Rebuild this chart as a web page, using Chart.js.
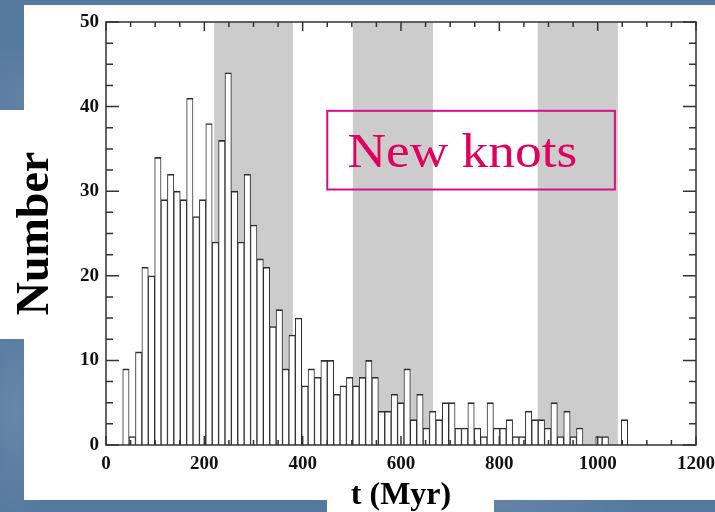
<!DOCTYPE html>
<html>
<head>
<meta charset="utf-8">
<script src="https://cdn.jsdelivr.net/npm/chart.js@4.4.1/dist/chart.umd.min.js"></script>
<style>
  html, body { margin: 0; padding: 0; }
  body {
    width: 715px; height: 512px; overflow: hidden; position: relative;
    background:
      radial-gradient(ellipse 180px 90px at 10% 20%, rgba(255,255,255,0.10), rgba(255,255,255,0) 70%),
      radial-gradient(ellipse 200px 80px at 70% 98%, rgba(255,255,255,0.08), rgba(255,255,255,0) 70%),
      radial-gradient(ellipse 60px 160px at 2% 80%, rgba(255,255,255,0.10), rgba(255,255,255,0) 70%),
      #56799f;
  }
  .sheet { position: absolute; background: #fff; }
  #chart { position: absolute; left: 0; top: 0; }
</style>
</head>
<body>
<div class="sheet" style="left:24px;top:5px;width:691px;height:495px"></div>
<div class="sheet" style="left:0;top:110px;width:24px;height:229px"></div>
<div class="sheet" style="left:327px;top:500px;width:167px;height:12px"></div>
<canvas id="chart" width="715" height="512"></canvas>
<script>
// knot ages, binned in 13 Myr steps from 34 Myr
var binStart = 34;
var binWidth = 13;
var counts = [9, 1, 11, 21, 20, 34, 29, 32, 30, 29,
              41, 27, 29, 38, 24, 36, 44, 30, 24, 32,
              26, 22, 21, 14, 16, 9, 13, 15, 7, 9,
              8, 10, 10, 6, 7, 8, 7, 8, 10, 8,
              4, 4, 6, 5, 9, 3, 6, 2, 4, 3,
              5, 5, 2, 2, 5, 2, 1, 5, 2, 2,
              3, 1, 1, 4, 3, 3, 2, 5, 1, 4,
              1, 2, 0, 0, 1, 1, 0, 0, 3];

// grey age intervals (Myr)
var bandStart = [220, 502, 878];
var bandEnd = [380, 665, 1041];

var xTicks = [0, 200, 400, 600, 800, 1000, 1200];
var yTicks = [0, 10, 20, 30, 40, 50];

var bins = counts.map(function (c, i) {
  return { x: binStart + binWidth * (i + 0.5), y: c };
});

var serif = 'Liberation Serif';

var frame = {
  id: 'frame',
  beforeDatasetsDraw: function (chart) {
    var a = chart.chartArea, sx = chart.scales.x, ctx = chart.ctx;
    ctx.save();
    ctx.fillStyle = '#cccccc';
    for (var i = 0; i < bandStart.length; i++) {
      var x0 = sx.getPixelForValue(bandStart[i]);
      var x1 = sx.getPixelForValue(bandEnd[i]);
      ctx.fillRect(x0, a.top, x1 - x0, a.bottom - a.top);
    }
    ctx.restore();
  },
  afterDatasetsDraw: function (chart) {
    // closed box with inward ticks on all four sides
    var a = chart.chartArea, sx = chart.scales.x, sy = chart.scales.y, ctx = chart.ctx;
    ctx.save();
    ctx.strokeStyle = '#333';
    ctx.lineWidth = 1.5;
    ctx.strokeRect(a.left, a.top, a.right - a.left, a.bottom - a.top);
    ctx.beginPath();
    for (var v = 0; v <= 1200; v += 50) {
      var px = sx.getPixelForValue(v);
      var len = v % 200 === 0 ? 9 : 5;
      ctx.moveTo(px, a.bottom); ctx.lineTo(px, a.bottom - len);
      ctx.moveTo(px, a.top); ctx.lineTo(px, a.top + len);
    }
    for (var w = 0; w <= 50; w += 2.5) {
      var py = sy.getPixelForValue(w);
      var l2 = w % 10 === 0 ? 13 : 7;
      ctx.moveTo(a.left, py); ctx.lineTo(a.left + l2, py);
      ctx.moveTo(a.right, py); ctx.lineTo(a.right - l2, py);
    }
    ctx.stroke();
    ctx.restore();
  },
  afterDraw: function (chart) {
    var sx = chart.scales.x, sy = chart.scales.y, ctx = chart.ctx;
    var x0 = sx.getPixelForValue(450), x1 = sx.getPixelForValue(1035);
    var y0 = sy.getPixelForValue(39.5), y1 = sy.getPixelForValue(30.2);
    ctx.save();
    ctx.strokeStyle = '#d3118b';
    ctx.lineWidth = 2;
    ctx.strokeRect(x0, y0, x1 - x0, y1 - y0);
    ctx.fillStyle = '#e0005e';
    ctx.font = '49px "' + serif + '"';
    ctx.textBaseline = 'alphabetic';
    ctx.translate(sx.getPixelForValue(491), sy.getPixelForValue(32.9));
    ctx.scale(1.09, 1);
    ctx.fillText('New knots', 0, 0);
    ctx.restore();
  }
};

var tickFont = { family: serif, weight: 'bold', size: 19 };
var plain = function (v) { return String(v); };

new Chart(document.getElementById('chart'), {
  type: 'bar',
  data: {
    datasets: [{
      data: bins,
      backgroundColor: '#ffffff',
      borderColor: '#2e2e2e',
      borderWidth: { left: 1, right: 1, top: 1.6, bottom: 0 },
      barPercentage: 1,
      categoryPercentage: 1
    }]
  },
  options: {
    responsive: false,
    animation: false,
    devicePixelRatio: 1,
    layout: { padding: { left: 0, right: 19, top: 22, bottom: 0 } },
    plugins: { legend: { display: false }, tooltip: { enabled: false } },
    scales: {
      x: {
        type: 'linear',
        min: 0,
        max: 1200,
        offset: false,
        grid: { display: false, drawTicks: false, offset: false },
        border: { display: false },
        ticks: { font: tickFont, color: '#111', padding: 8, maxRotation: 0, autoSkip: false, callback: plain },
        afterBuildTicks: function (s) { s.ticks = xTicks.map(function (v) { return { value: v }; }); },
        afterFit: function (s) { s.height = 67; s.paddingLeft = 0; s.paddingRight = 0; },
        title: {
          display: true,
          text: 't (Myr)',
          color: '#000',
          font: { family: serif, weight: 'bold', size: 32, lineHeight: 1 },
          padding: { top: 0, bottom: 0 }
        }
      },
      y: {
        min: 0,
        max: 50,
        grid: { display: false, drawTicks: false },
        border: { display: false },
        ticks: { font: tickFont, color: '#111', padding: 7, callback: plain },
        afterBuildTicks: function (s) { s.ticks = yTicks.map(function (v) { return { value: v }; }); },
        afterFit: function (s) { s.width = 106; s.paddingTop = 0; s.paddingBottom = 0; },
        title: {
          display: true,
          text: 'Number',
          color: '#000',
          font: { family: serif, weight: 'bold', size: 46, lineHeight: 1 },
          padding: { top: 13, bottom: 0 }
        }
      }
    }
  },
  plugins: [frame]
});
</script>
</body>
</html>
